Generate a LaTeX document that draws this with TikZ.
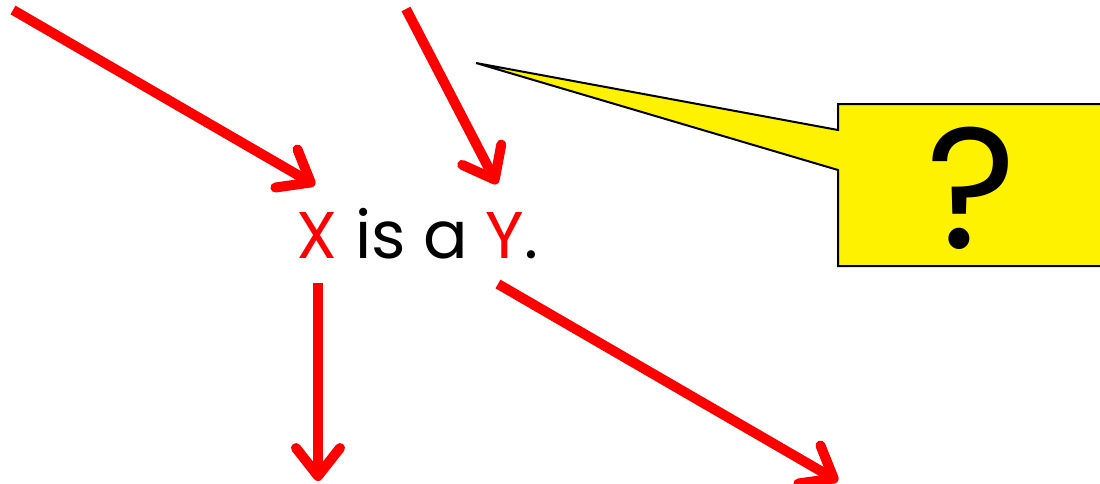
\documentclass[tikz,border=0pt]{standalone}
\usepackage{fontspec}
\setmainfont{Poppins}
\usetikzlibrary{arrows.meta}
\begin{document}
\begin{tikzpicture}[x=0.5pt,y=-0.5pt,
  redarrow/.style={draw=red, line width=5pt, line cap=butt,
    -{Straight Barb[length=14pt,width=22pt,round]}},
  callout/.style={fill=yellow, draw=black, line width=1pt, line join=miter},
  sentence/.style={inner sep=0pt, anchor=base west, font=\fontsize{33}{40}\selectfont},
  qmark/.style={inner sep=0pt, font=\fontsize{86}{90}\selectfont}]
\useasboundingbox (0,0) rectangle (1100,483);
\clip (0,0) rectangle (1100,483);
% sentence
\node[sentence] (sent) at (296,258) {\textcolor{red}{X} is a \textcolor{red}{Y}.};
% arrow end points
\coordinate (a1s) at (13,10);
\coordinate (a1e) at (315,185);
\coordinate (a2s) at (406,9);
\coordinate (a2e) at (497,184);
\coordinate (a3s) at (318,283);
\coordinate (a3e) at (318,481);
\coordinate (a4s) at (498,284);
\coordinate (a4e) at (838,481);
\draw[redarrow] (a1s) -- (a1e);
\draw[redarrow] (a2s) -- (a2e);
\draw[redarrow] (a3s) -- (a3e);
\draw[redarrow] (a4s) -- (a4e);
% callout
\coordinate (tip) at (476,63);
\draw[callout] (tip) -- (838,130) -- (838,104) -- (1110,104) -- (1110,266)
  -- (838,266) -- (838,170) -- cycle;
\node[qmark] (q) at (972,188) {?};
\end{tikzpicture}
\end{document}
